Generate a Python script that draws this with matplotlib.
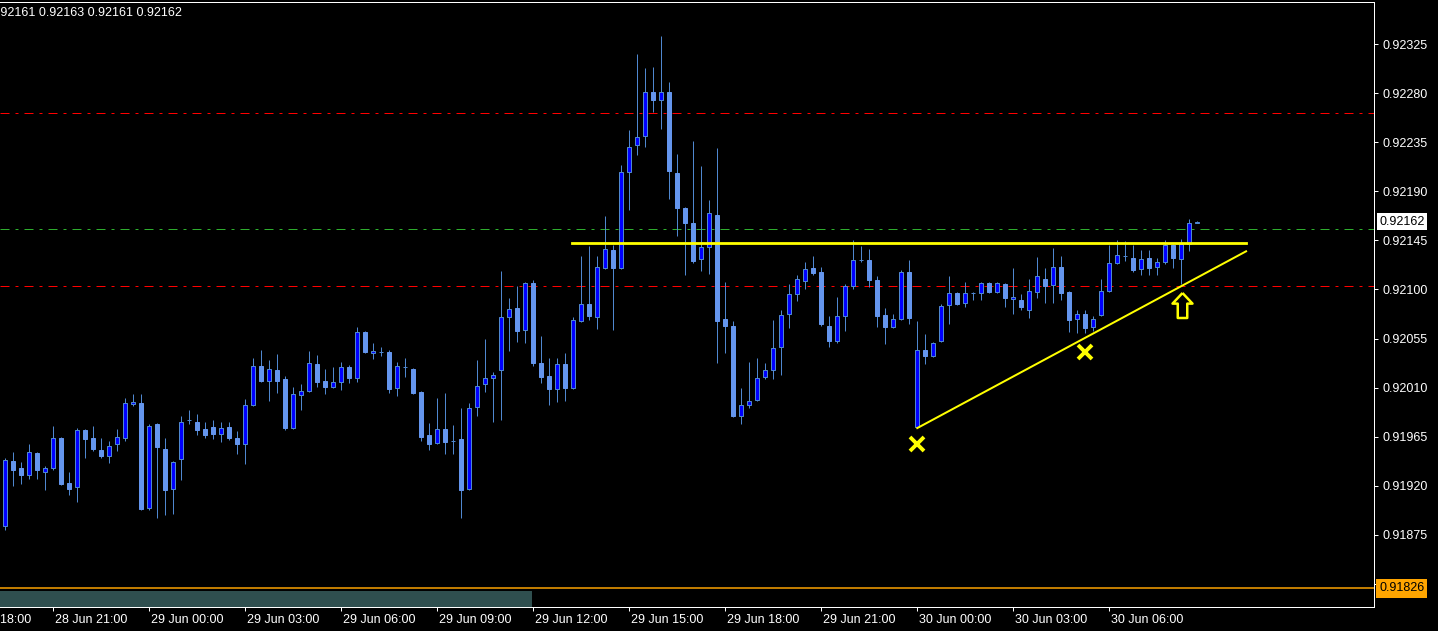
import matplotlib
matplotlib.use('Agg')
import matplotlib.pyplot as plt
from matplotlib.patches import Rectangle
from matplotlib.path import Path
from matplotlib.transforms import blended_transform_factory
import numpy as np

# 15 minute candles, 28 Jun 19:30 -> 30 Jun 08:45
opens = [0.91883, 0.91943, 0.91936, 0.91930, 0.91950, 0.91933, 0.91936, 0.91964, 0.91923, 0.91919,
         0.91971, 0.91964, 0.91953, 0.91947, 0.91958, 0.91964, 0.91995, 0.91996, 0.91900, 0.91977,
         0.91954, 0.91917, 0.91945, 0.91980, 0.91979, 0.91972, 0.91974, 0.91968, 0.91974, 0.91964,
         0.91958, 0.91994, 0.92030, 0.92016, 0.92026, 0.92018, 0.91973, 0.92003, 0.92007, 0.92032,
         0.92016, 0.92011, 0.92015, 0.92029, 0.92019, 0.92061, 0.92042, 0.92043, 0.92043, 0.92010,
         0.92029, 0.92027, 0.92006, 0.91967, 0.91959, 0.91972, 0.91961, 0.91963, 0.91917, 0.91992,
         0.92013, 0.92019, 0.92026, 0.92075, 0.92083, 0.92063, 0.92106, 0.92033, 0.92021, 0.92009,
         0.92032, 0.92010, 0.92071, 0.92087, 0.92075, 0.92120, 0.92136, 0.92120, 0.92208, 0.92232,
         0.92241, 0.92281, 0.92274, 0.92281, 0.92207, 0.92175, 0.92161, 0.92128, 0.92139, 0.92168,
         0.92073, 0.92067, 0.91984, 0.91994, 0.91999, 0.92020, 0.92026, 0.92047, 0.92078, 0.92096,
         0.92108, 0.92120, 0.92116, 0.92067, 0.92053, 0.92076, 0.92103, 0.92127, 0.92127, 0.92109,
         0.92077, 0.92066, 0.92073, 0.92116, 0.91974, 0.92045, 0.92039, 0.92053, 0.92086, 0.92097,
         0.92088, 0.92097, 0.92097, 0.92106, 0.92098, 0.92105, 0.92091, 0.92090, 0.92081, 0.92098,
         0.92110, 0.92104, 0.92121, 0.92098, 0.92073, 0.92078, 0.92066, 0.92077, 0.92099, 0.92124,
         0.92131, 0.92129, 0.92119, 0.92129, 0.92121, 0.92125, 0.92141, 0.92128, 0.92142, 0.92161]
highs = [0.91946, 0.91951, 0.91942, 0.91958, 0.91951, 0.91938, 0.91975, 0.91965, 0.91933, 0.91973,
         0.91972, 0.91975, 0.91964, 0.91961, 0.91972, 0.92001, 0.92004, 0.92004, 0.91977, 0.91978,
         0.91964, 0.91943, 0.91984, 0.91990, 0.91986, 0.91979, 0.91980, 0.91979, 0.91979, 0.91970,
         0.92000, 0.92037, 0.92045, 0.92035, 0.92041, 0.92021, 0.92011, 0.92013, 0.92044, 0.92040,
         0.92027, 0.92029, 0.92034, 0.92031, 0.92066, 0.92062, 0.92051, 0.92047, 0.92045, 0.92034,
         0.92037, 0.92028, 0.92007, 0.91978, 0.92001, 0.92005, 0.91976, 0.91991, 0.91996, 0.92035,
         0.92055, 0.92024, 0.92117, 0.92092, 0.92103, 0.92107, 0.92109, 0.92057, 0.92037, 0.92037,
         0.92042, 0.92075, 0.92131, 0.92140, 0.92131, 0.92167, 0.92141, 0.92214, 0.92246, 0.92316,
         0.92303, 0.92304, 0.92332, 0.92290, 0.92224, 0.92176, 0.92236, 0.92213, 0.92182, 0.92230,
         0.92107, 0.92071, 0.92010, 0.92034, 0.92037, 0.92033, 0.92072, 0.92081, 0.92105, 0.92113,
         0.92125, 0.92131, 0.92121, 0.92076, 0.92093, 0.92105, 0.92145, 0.92140, 0.92137, 0.92112,
         0.92083, 0.92078, 0.92118, 0.92127, 0.92071, 0.92059, 0.92052, 0.92087, 0.92112, 0.92098,
         0.92107, 0.92098, 0.92107, 0.92107, 0.92107, 0.92106, 0.92120, 0.92096, 0.92110, 0.92130,
         0.92120, 0.92138, 0.92131, 0.92099, 0.92081, 0.92081, 0.92076, 0.92110, 0.92141, 0.92145,
         0.92144, 0.92141, 0.92136, 0.92136, 0.92129, 0.92145, 0.92142, 0.92146, 0.92165, 0.92163]
lows = [0.91880, 0.91920, 0.91922, 0.91926, 0.91926, 0.91916, 0.91935, 0.91921, 0.91912, 0.91905,
        0.91946, 0.91952, 0.91946, 0.91941, 0.91952, 0.91961, 0.91993, 0.91898, 0.91898, 0.91891,
        0.91893, 0.91894, 0.91925, 0.91977, 0.91967, 0.91964, 0.91963, 0.91960, 0.91962, 0.91949,
        0.91940, 0.91993, 0.92015, 0.91998, 0.92005, 0.91971, 0.91972, 0.91990, 0.92006, 0.92011,
        0.92004, 0.92010, 0.92008, 0.92014, 0.92015, 0.92042, 0.92036, 0.92039, 0.92005, 0.92002,
        0.92020, 0.92004, 0.91961, 0.91953, 0.91958, 0.91949, 0.91949, 0.91891, 0.91916, 0.91984,
        0.92006, 0.91979, 0.91980, 0.92044, 0.92052, 0.92051, 0.92030, 0.92014, 0.91994, 0.91997,
        0.91998, 0.92009, 0.92070, 0.92072, 0.92064, 0.92119, 0.92063, 0.92119, 0.92173, 0.92223,
        0.92231, 0.92263, 0.92247, 0.92183, 0.92149, 0.92113, 0.92124, 0.92117, 0.92114, 0.92033,
        0.92042, 0.91983, 0.91977, 0.91991, 0.91998, 0.92018, 0.92018, 0.92022, 0.92065, 0.92089,
        0.92100, 0.92113, 0.92067, 0.92047, 0.92051, 0.92062, 0.92100, 0.92125, 0.92102, 0.92066,
        0.92050, 0.92065, 0.92072, 0.92068, 0.91973, 0.92032, 0.92038, 0.92052, 0.92068, 0.92086,
        0.92084, 0.92090, 0.92090, 0.92097, 0.92097, 0.92084, 0.92078, 0.92081, 0.92074, 0.92092,
        0.92088, 0.92088, 0.92090, 0.92061, 0.92060, 0.92060, 0.92062, 0.92076, 0.92098, 0.92123,
        0.92126, 0.92116, 0.92113, 0.92113, 0.92113, 0.92123, 0.92120, 0.92105, 0.92135, 0.92161]
closes = [0.91944, 0.91935, 0.91930, 0.91951, 0.91935, 0.91936, 0.91964, 0.91922, 0.91917, 0.91971,
          0.91963, 0.91954, 0.91947, 0.91957, 0.91965, 0.91996, 0.91997, 0.91899, 0.91975, 0.91956,
          0.91916, 0.91942, 0.91979, 0.91980, 0.91971, 0.91967, 0.91968, 0.91973, 0.91964, 0.91958,
          0.91994, 0.92030, 0.92016, 0.92027, 0.92016, 0.91973, 0.92004, 0.92007, 0.92033, 0.92015,
          0.92011, 0.92015, 0.92029, 0.92019, 0.92061, 0.92043, 0.92044, 0.92043, 0.92009, 0.92030,
          0.92029, 0.92005, 0.91965, 0.91958, 0.91972, 0.91960, 0.91961, 0.91916, 0.91991, 0.92012,
          0.92019, 0.92022, 0.92075, 0.92082, 0.92062, 0.92106, 0.92033, 0.92020, 0.92009, 0.92032,
          0.92010, 0.92072, 0.92087, 0.92076, 0.92121, 0.92137, 0.92120, 0.92208, 0.92231, 0.92240,
          0.92281, 0.92274, 0.92281, 0.92209, 0.92175, 0.92161, 0.92126, 0.92139, 0.92170, 0.92071,
          0.92067, 0.91984, 0.91994, 0.91998, 0.92019, 0.92026, 0.92046, 0.92077, 0.92096, 0.92110,
          0.92119, 0.92115, 0.92068, 0.92053, 0.92076, 0.92103, 0.92127, 0.92127, 0.92109, 0.92076,
          0.92066, 0.92073, 0.92116, 0.92074, 0.92045, 0.92039, 0.92051, 0.92085, 0.92097, 0.92087,
          0.92097, 0.92097, 0.92106, 0.92098, 0.92106, 0.92092, 0.92093, 0.92084, 0.92099, 0.92112,
          0.92103, 0.92121, 0.92097, 0.92072, 0.92078, 0.92065, 0.92073, 0.92099, 0.92124, 0.92132,
          0.92131, 0.92118, 0.92128, 0.92120, 0.92125, 0.92141, 0.92129, 0.92142, 0.92161, 0.92162]

# candle index of each time label (0 = 28 Jun 19:30)
time_idx = [-6, 6, 18, 30, 42, 54, 66, 78, 90, 102, 114, 126, 138]
time_labels = ['28 Jun 18:00', '28 Jun 21:00', '29 Jun 00:00', '29 Jun 03:00', '29 Jun 06:00',
               '29 Jun 09:00', '29 Jun 12:00', '29 Jun 15:00', '29 Jun 18:00', '29 Jun 21:00',
               '30 Jun 00:00', '30 Jun 03:00', '30 Jun 06:00']
price_ticks = [0.91830, 0.91875, 0.91920, 0.91965, 0.92010, 0.92055, 0.92100,
               0.92145, 0.92190, 0.92235, 0.92280, 0.92325]

ohlc_text = '0.92161 0.92163 0.92161 0.92162'
last_price = 0.92162
red_levels = [0.92262, 0.92103]
green_level = 0.92155
orange_level = 0.91826

# drawn objects (yellow)
resistance = 0.92143
resistance_x = [70.8, 155.1]
trend_x = [114.0, 155.1]
trend_y = [0.91973, 0.92135]
cross_x = [114, 135]
cross_y = [0.91958, 0.92043]
arrow_x = [147.1]
arrow_y = [0.92086]

W, H = 1438, 631
PX = 0.72  # one pixel in points at dpi 100
font = 'Liberation Sans'
plt.rcParams['font.family'] = [font, 'DejaVu Sans']

fig = plt.figure(figsize=(W / 100, H / 100), dpi=100, facecolor='black')
ax = fig.add_axes([0, 24 / H, 1374 / W, 605 / H], facecolor='black')

idx = np.arange(len(opens))
o = np.array(opens)
c = np.array(closes)
up = c >= o
wick = '#4f87cf'

ax.vlines(idx, lows, highs, color=wick, lw=PX, zorder=2)
ax.bar(idx[up], (c - o)[up], bottom=o[up], width=0.5, color='#0000ff',
       edgecolor=wick, lw=PX, zorder=3)
ax.bar(idx[~up], (o - c)[~up], bottom=c[~up], width=0.5, color='#6495ed',
       edgecolor='#6495ed', lw=PX, zorder=3)

# horizontal levels
dash = (0, (9, 6, 3, 6))
for lv in red_levels:
    ax.axhline(lv, color='#ff0000', lw=PX, ls=dash, zorder=1)
ax.axhline(green_level, color='#2eae2e', lw=PX, ls=dash, zorder=1)
ax.axhline(orange_level, color='#ffa500', lw=1.5 * PX, zorder=1)

# trend objects
ax.plot(resistance_x, [resistance, resistance], color='#ffff00', lw=2.8 * PX, zorder=4)
ax.plot(trend_x, trend_y, color='#ffff00', lw=2 * PX, zorder=4)
ax.plot(cross_x, cross_y, 'x', color='#ffff00', ms=10, mew=2.8, ls='none', zorder=5)
arrow = Path([(0, 1), (0.8, 0.15), (0.38, 0.15), (0.38, -1), (-0.38, -1),
              (-0.38, 0.15), (-0.8, 0.15), (0, 1)])
ax.plot(arrow_x, arrow_y, marker=arrow, ms=18, mfc='black', mec='#ffff00',
        mew=1.8, ls='none', zorder=5)

# bottom bar
ax.add_patch(Rectangle((0, 0), 532 / 1374, 16 / 605, transform=ax.transAxes,
                       fc='#2f4f4f', ec='none', zorder=1))

ax.set_xlim(-0.66, 171.09)
ax.set_ylim(0.91809, 0.923635)

for s in ['top', 'right', 'bottom']:
    ax.spines[s].set_color('white')
    ax.spines[s].set_linewidth(PX)
ax.spines['left'].set_visible(False)

ax.yaxis.tick_right()
ax.set_yticks(price_ticks)
ax.set_yticklabels([f'{p:.5f}' for p in price_ticks])
ax.tick_params(axis='y', colors='white', length=3, width=PX, pad=3, labelsize=9)
ax.set_xticks([t for t in time_idx if t >= 0])
ax.set_xticklabels([])
ax.tick_params(axis='x', colors='white', length=3, width=PX)

tr = blended_transform_factory(ax.transData, ax.transAxes)
for t, lab in zip(time_idx, time_labels):
    ax.text(t + 0.2, -0.021, lab, transform=tr, ha='left', va='center',
            color='white', fontsize=9, clip_on=False)

tr2 = blended_transform_factory(ax.transAxes, ax.transData)
ax.text(1 + 5 / 1374, last_price, f'{last_price:.5f}', transform=tr2, ha='left',
        va='center', color='black', fontsize=9, zorder=10, clip_on=False,
        bbox=dict(boxstyle='square,pad=0.2', fc='white', ec='none'))
ax.text(1 + 5 / 1374, orange_level, f'{orange_level:.5f}', transform=tr2, ha='left',
        va='center', color='black', fontsize=9, zorder=10, clip_on=False,
        bbox=dict(boxstyle='square,pad=0.25', fc='#ffa500', ec='none'))

fig.text(-10 / W, 1 - 12.5 / H, ohlc_text, color='white', fontsize=9, va='center', ha='left')

fig.savefig('out.png', dpi=100, facecolor='black')
